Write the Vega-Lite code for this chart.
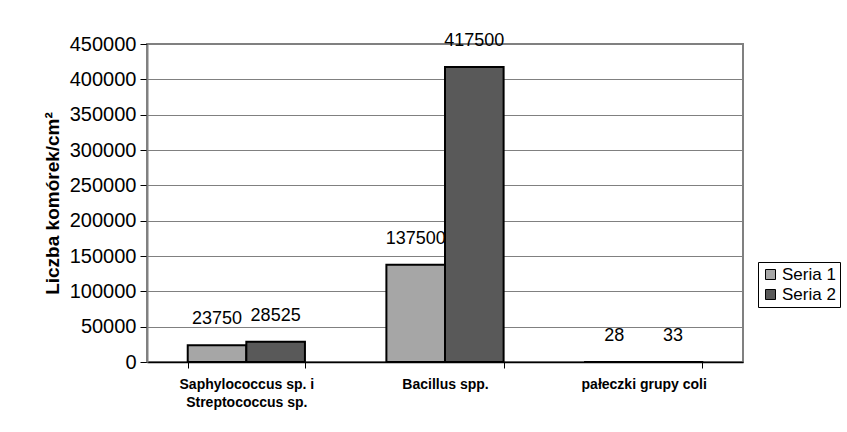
{
  "$schema": "https://vega.github.io/schema/vega-lite/v6.json",
  "autosize": "none",
  "padding": {"left": 147, "top": 44, "right": 104, "bottom": 70},
  "width": 596,
  "height": 318,
  "background": "white",
  "config": {
    "font": "Liberation Sans",
    "view": {"stroke": "#808080", "strokeWidth": 2}
  },
  "data": {
    "values": [
      {"kat": "Saphylococcus sp. i|Streptococcus sp.", "seria": "Seria 1", "v": 23750},
      {"kat": "Saphylococcus sp. i|Streptococcus sp.", "seria": "Seria 2", "v": 28525},
      {"kat": "Bacillus spp.", "seria": "Seria 1", "v": 137500},
      {"kat": "Bacillus spp.", "seria": "Seria 2", "v": 417500},
      {"kat": "pałeczki grupy coli", "seria": "Seria 1", "v": 28},
      {"kat": "pałeczki grupy coli", "seria": "Seria 2", "v": 33}
    ]
  },
  "encoding": {
    "x": {
      "field": "kat", "type": "nominal", "sort": null,
      "scale": {"paddingInner": 0.41, "paddingOuter": 0.205},
      "axis": {
        "title": null, "labelAngle": 0, "labelFontWeight": "bold", "labelFontSize": 14,
        "labelColor": "black", "labelExpr": "split(datum.label, '|')", "labelLineHeight": 18,
        "labelPadding": 9, "tickBand": "extent", "tickColor": "black", "tickSize": 6,
        "domainColor": "black", "domainWidth": 1.5, "labelLimit": 300
      }
    },
    "xOffset": {"field": "seria", "type": "nominal"},
    "y": {
      "field": "v", "type": "quantitative",
      "scale": {"domain": [0, 450000], "nice": false},
      "axis": {
        "title": "Liczba komórek/cm²", "titleFontSize": 19, "titleFontWeight": "bold", "titleColor": "black",
        "titlePadding": 7,
        "values": [0, 50000, 100000, 150000, 200000, 250000, 300000, 350000, 400000, 450000],
        "format": "d", "labelFontSize": 20, "labelColor": "black", "labelPadding": 4,
        "tickColor": "black", "tickSize": 7, "domainColor": "#808080", "domainWidth": 2,
        "grid": true, "gridColor": "#808080", "gridWidth": 1
      }
    }
  },
  "layer": [
    {
      "mark": {"type": "bar", "stroke": "black", "strokeWidth": 2},
      "encoding": {
        "color": {
          "field": "seria", "type": "nominal",
          "scale": {"domain": ["Seria 1", "Seria 2"], "range": ["#A6A6A6", "#595959"]},
          "legend": {
            "title": null, "orient": "none", "legendX": 611, "legendY": 218,
            "symbolType": "square", "symbolSize": 100, "symbolStrokeColor": "black", "symbolStrokeWidth": 1,
            "labelFontSize": 17, "labelColor": "black", "rowPadding": 2, "labelOffset": 3,
            "strokeColor": "black", "padding": 4
          }
        }
      }
    },
    {
      "mark": {"type": "text", "fontSize": 18, "color": "black", "baseline": "middle", "dy": -26},
      "encoding": {"text": {"field": "v", "type": "quantitative", "format": "d"}}
    }
  ]
}
